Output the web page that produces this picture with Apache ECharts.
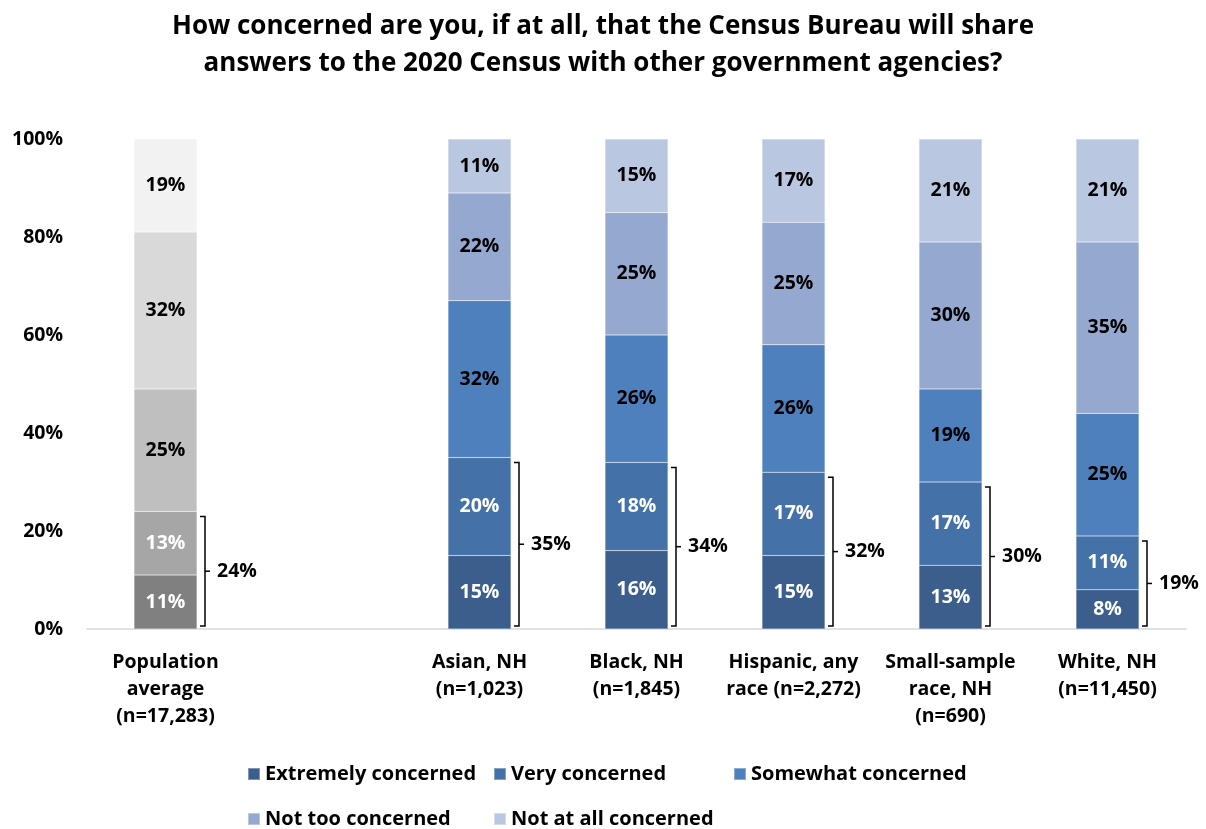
<!DOCTYPE html>
<html>
<head>
<meta charset="utf-8">
<script src="https://cdn.jsdelivr.net/npm/echarts@6/dist/echarts.min.js"></script>
<style>
html,body{margin:0;padding:0;background:#fff;}
#chart{width:1206px;height:829px;}
</style>
</head>
<body>
<div id="chart"></div>
<script>
const categories = ['Population\naverage\n(n=17,283)', '', 'Asian, NH\n(n=1,023)', 'Black, NH\n(n=1,845)', 'Hispanic, any\nrace (n=2,272)', 'Small-sample\nrace, NH\n(n=690)', 'White, NH\n(n=11,450)'];
const seriesNames = ['Extremely concerned', 'Very concerned', 'Somewhat concerned', 'Not too concerned', 'Not at all concerned'];
const extremely = [11, null, 15, 16, 15, 13, 8];
const very = [13, null, 20, 18, 17, 17, 11];
const somewhat = [25, null, 32, 26, 26, 19, 25];
const notToo = [32, null, 22, 25, 25, 30, 35];
const notAtAll = [19, null, 11, 15, 17, 21, 21];
const bracketTotals = [24, null, 35, 34, 32, 30, 19];
const yTicks = [0, 20, 40, 60, 80, 100];

const blueColors = ['#3B5E8C', '#4471A7', '#4E80BD', '#95A9D0', '#BAC7E1'];
const greyColors = ['#808080', '#A6A6A6', '#BFBFBF', '#D9D9D9', '#F2F2F2'];
const labelColors = ['#fff', '#fff', '#000', '#000', '#000'];
const FONT = 'Open Sans';

const allValues = [extremely, very, somewhat, notToo, notAtAll];

const barSeries = seriesNames.map((name, si) => ({
  name: name,
  type: 'bar',
  stack: 'total',
  barWidth: 63,
  itemStyle: { color: blueColors[si], borderColor: 'rgba(255,255,255,0.35)', borderWidth: 0.5 },
  label: {
    show: true,
    position: 'inside',
    formatter: p => p.value == null ? '' : p.value + '%',
    color: labelColors[si],
    fontFamily: FONT,
    fontWeight: 'bold',
    fontSize: 19.5
  },
  data: allValues[si].map((v, i) => {
    if (v == null) return '-';
    if (i === 0) return { value: v, itemStyle: { color: greyColors[si] } };
    return v;
  })
}));

const bracketData = bracketTotals.map((t, i) => t == null ? null : [i, t]).filter(d => d);

const bracketSeries = {
  type: 'custom',
  name: 'bracket',
  data: bracketData,
  encode: { x: 0, y: 1 },
  z: 10,
  renderItem: function (params, api) {
    const idx = api.value(0);
    const total = api.value(1);
    const top = api.coord([idx, total]);
    const bot = api.coord([idx, 0]);
    const x = top[0] + 31.5 + 8;
    const y1 = top[1] + 5;
    const y2 = bot[1] - 3;
    const mid = (y1 + y2) / 2;
    return {
      type: 'group',
      children: [
        { type: 'polyline', shape: { points: [[x - 5, y1], [x, y1], [x, y2], [x - 5, y2]] }, style: { stroke: '#000', lineWidth: 1.5, fill: null } },
        { type: 'line', shape: { x1: x, y1: mid, x2: x + 5, y2: mid }, style: { stroke: '#000', lineWidth: 1.5 } },
        { type: 'text', style: { x: x + 12, y: mid, text: total + '%', textAlign: 'left', textVerticalAlign: 'middle', fill: '#000', font: 'bold 19.5px "' + FONT + '"' } }
      ]
    };
  }
};

const legendPos = [
  { name: 'Extremely concerned', left: 247, top: 764 },
  { name: 'Very concerned', left: 493, top: 764 },
  { name: 'Somewhat concerned', left: 733, top: 764 },
  { name: 'Not too concerned', left: 247, top: 809 },
  { name: 'Not at all concerned', left: 493, top: 809 }
];

const chart = echarts.init(document.getElementById('chart'), null, { renderer: 'canvas' });
chart.setOption({
  animation: false,
  backgroundColor: '#fff',
  title: {
    text: 'How concerned are you, if at all, that the Census Bureau will share\nanswers to the 2020 Census with other government agencies?',
    left: 'center',
    top: 3,
    textStyle: { fontFamily: FONT, fontWeight: 'bold', fontSize: 26, lineHeight: 37, color: '#000' }
  },
  grid: { left: 87, right: 20, top: 139, bottom: 200, containLabel: false },
  legend: legendPos.map(l => ({
    data: [l.name], left: l.left, top: l.top, padding: 0,
    icon: 'rect', itemWidth: 12, itemHeight: 12, itemGap: 0, selectedMode: false,
    textStyle: { fontFamily: FONT, fontWeight: 'bold', fontSize: 20, color: '#000' }
  })),
  xAxis: {
    type: 'category',
    data: categories,
    axisLine: { show: true, lineStyle: { color: '#D9D9D9', width: 1.5 } },
    axisTick: { show: false },
    axisLabel: { interval: 0, fontFamily: FONT, fontWeight: 'bold', fontSize: 19.5, color: '#000', lineHeight: 27, margin: 20 }
  },
  yAxis: {
    type: 'value',
    min: 0, max: 100, interval: 20,
    axisLine: { show: false },
    axisTick: { show: false },
    splitLine: { show: false },
    axisLabel: { formatter: v => yTicks.includes(v) ? v + '%' : '', fontFamily: FONT, fontWeight: 'bold', fontSize: 19.5, color: '#000', margin: 24 }
  },
  series: barSeries.concat([bracketSeries])
});
</script>
</body>
</html>
